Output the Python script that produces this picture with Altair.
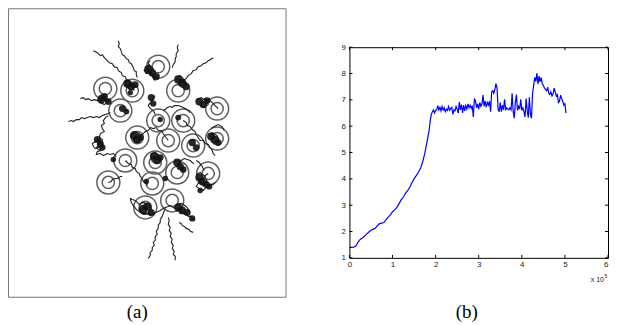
import altair as alt
import pandas as pd

# ---------------- Panel (b) data: line ----------------
line_x = [0.00, 0.05, 0.10, 0.15, 0.20, 0.25, 0.30, 0.35, 0.40, 0.45, 0.50, 0.55, 0.60, 0.65,
          0.70, 0.75, 0.80, 0.85, 0.90, 0.95, 1.00, 1.05, 1.10, 1.15, 1.20, 1.25, 1.30, 1.35,
          1.40, 1.45, 1.50, 1.55, 1.60, 1.65, 1.70, 1.75, 1.80, 1.85, 1.875, 1.90, 1.925, 1.95,
          1.975, 2.00, 2.025, 2.05, 2.075, 2.10, 2.125, 2.15, 2.175, 2.20, 2.225, 2.25, 2.275,
          2.30, 2.325, 2.35, 2.375, 2.40, 2.425, 2.45, 2.475, 2.50, 2.525, 2.55, 2.575, 2.60,
          2.625, 2.65, 2.675, 2.70, 2.725, 2.75, 2.775, 2.80, 2.825, 2.85, 2.875, 2.90, 2.925,
          2.95, 2.975, 3.00, 3.025, 3.05, 3.075, 3.10, 3.125, 3.15, 3.175, 3.20, 3.225, 3.25,
          3.275, 3.30, 3.325, 3.35, 3.375, 3.40, 3.425, 3.45, 3.475, 3.50, 3.525, 3.55, 3.575,
          3.60, 3.625, 3.65, 3.675, 3.70, 3.725, 3.75, 3.775, 3.80, 3.825, 3.85, 3.875, 3.90,
          3.925, 3.95, 3.975, 4.00, 4.025, 4.05, 4.075, 4.10, 4.125, 4.15, 4.175, 4.20, 4.225,
          4.25, 4.275, 4.30, 4.325, 4.35, 4.375, 4.40, 4.425, 4.45, 4.475, 4.50, 4.525, 4.55,
          4.575, 4.60, 4.625, 4.65, 4.675, 4.70, 4.725, 4.75, 4.775, 4.80, 4.825, 4.85, 4.875,
          4.90, 4.925, 4.95, 4.975, 5.00, 5.025]
line_v = [1.40, 1.40, 1.41, 1.45, 1.60, 1.70, 1.75, 1.82, 1.90, 1.98, 2.05, 2.08, 2.12, 2.22,
          2.30, 2.32, 2.34, 2.45, 2.55, 2.63, 2.75, 2.82, 2.92, 3.05, 3.20, 3.30, 3.45, 3.55,
          3.68, 3.85, 4.00, 4.12, 4.25, 4.40, 4.65, 4.98, 5.40, 5.85, 6.20, 6.45, 6.55, 6.62,
          6.50, 6.60, 6.62, 6.78, 6.62, 6.72, 6.58, 6.75, 6.62, 6.70, 6.55, 6.65, 6.60,
          6.75, 6.60, 6.68, 6.72, 6.45, 6.62, 6.58, 6.75, 6.65, 6.50, 6.92, 6.62, 6.82,
          6.50, 6.80, 6.58, 6.78, 6.65, 6.85, 6.70, 6.80, 6.68, 6.78, 6.35, 7.05, 6.95,
          6.70, 6.85, 6.65, 6.90, 6.75, 6.85, 7.18, 6.75, 6.95, 6.72, 6.90, 6.80, 6.95,
          6.55, 7.30, 7.35, 7.25, 7.40, 7.62, 7.45, 6.65, 6.55, 6.90, 6.55, 6.80, 6.62,
          7.02, 6.60, 6.70, 6.65, 6.62, 6.70, 6.62, 7.25, 6.55, 6.30, 6.90, 7.20, 6.60,
          6.75, 6.65, 7.02, 6.60, 6.70, 6.55, 6.35, 7.05, 6.60, 6.32, 7.10, 6.45, 6.30,
          7.25, 7.55, 7.85, 7.70, 8.02, 7.60, 7.90, 7.68, 7.85, 7.60, 7.55, 7.45, 7.40,
          7.35, 7.48, 7.25, 7.20, 7.30, 7.15, 7.22, 7.45, 7.30, 7.15, 7.20, 6.90, 6.95,
          7.18, 7.05, 6.95, 6.80, 6.85, 6.50]
x_ticks = [0, 1, 2, 3, 4, 5, 6]
y_ticks = [1, 2, 3, 4, 5, 6, 7, 8, 9]

# ---------------- Panel (a) data (image-pixel coordinates) ----------------
circle_x = [158, 105, 132, 178, 217, 120, 158, 183, 137, 168, 193, 217, 125, 155, 177, 208, 108, 152, 145, 172]
circle_y = [66, 88, 90, 90, 108, 110, 120, 120, 137, 140, 145, 138, 160, 162, 172, 173, 182, 183, 207, 200]

traj = {
    "t1": [(93, 50), (97, 52), (100, 55), (102, 54), (104, 57), (107, 60), (109, 62), (112, 63), (114, 66), (117, 67), (118, 70), (121, 72), (122, 75), (125, 76), (126, 79), (129, 80), (130, 83), (133, 85)],
    "t2": [(118, 40), (119, 43), (118, 46), (120, 48), (121, 51), (122, 54), (124, 55), (126, 58), (128, 59), (129, 62), (131, 63), (133, 67), (134, 70), (136, 71), (136, 74), (137, 77)],
    "t3": [(178, 44), (177, 47), (178, 50), (176, 53), (176, 56), (175, 58), (175, 61), (173, 64), (172, 67)],
    "t4": [(213, 57), (210, 59), (208, 60), (206, 62), (203, 63), (201, 65), (198, 66), (196, 69), (193, 70), (191, 73), (188, 75), (186, 78), (184, 79), (182, 82)],
    "t5": [(80, 98), (83, 97), (85, 99), (88, 98), (91, 100), (94, 99), (97, 100), (100, 99), (104, 98)],
    "t6": [(68, 121), (71, 120), (73, 121), (76, 119), (79, 119), (81, 117), (84, 118), (87, 117), (90, 116), (93, 117), (96, 116), (99, 117), (102, 115), (105, 114), (108, 113), (110, 112)],
    "t7": [(148, 258), (150, 255), (150, 252), (152, 250), (152, 247), (154, 245), (153, 242), (155, 240), (155, 236), (157, 234), (156, 231), (158, 228), (158, 225), (160, 222), (160, 219), (162, 216), (163, 213), (165, 208)],
    "t8": [(175, 260), (175, 256), (173, 254), (174, 251), (172, 248), (173, 245), (171, 242), (172, 239), (170, 236), (171, 233), (169, 230), (170, 227), (168, 224), (169, 220), (168, 217)],
    "t9": [(193, 232), (190, 231), (189, 229), (186, 228), (184, 226), (182, 225), (181, 223), (179, 222)],
    "t10": [(108, 115), (105, 117), (103, 120), (104, 123), (101, 125), (102, 128), (104, 131), (100, 133), (99, 137), (102, 139), (101, 142), (97, 144), (99, 147), (101, 150), (97, 151), (96, 154), (100, 153), (103, 155), (107, 153), (110, 154), (113, 153), (116, 156)],
    "t11": [(125, 160), (128, 163), (131, 164), (132, 167), (135, 168), (136, 171), (139, 173), (140, 176), (142, 178), (143, 181), (146, 182), (147, 185)],
    "t12": [(137, 137), (139, 134), (142, 134), (145, 131), (148, 130), (150, 127), (153, 128), (156, 127), (158, 130), (161, 130), (163, 133), (165, 136), (168, 140)],
    "t13": [(183, 120), (186, 122), (187, 125), (190, 126), (192, 129), (195, 131), (196, 134), (198, 137), (200, 140), (203, 140), (205, 143), (208, 144), (210, 147), (212, 150), (213, 153), (215, 155)],
    "t14": [(208, 173), (205, 175), (203, 178), (200, 180), (198, 183), (196, 186), (199, 188), (203, 190), (206, 187), (210, 185), (213, 184), (215, 182)],
    "t15": [(108, 182), (111, 181), (112, 179), (115, 178), (118, 178), (120, 176), (122, 176)],
    "t16": [(150, 60), (148, 62), (149, 65), (147, 68), (149, 70), (150, 73), (152, 75), (153, 78), (155, 80)],
    "t17": [(140, 205), (137, 202), (135, 200), (132, 199), (130, 198), (131, 202), (133, 205), (136, 209), (140, 212), (143, 214), (147, 213), (150, 215), (153, 213), (155, 212), (158, 211), (160, 210), (163, 208), (165, 207), (168, 206), (170, 205), (173, 207), (175, 208), (178, 209), (180, 210), (183, 211), (184, 213), (187, 214), (188, 216), (191, 216), (192, 218), (195, 220)],
    "t18": [(155, 95), (153, 97), (152, 100), (150, 102), (148, 105), (150, 108), (153, 110), (154, 112), (155, 114)],
    "t19": [(163, 110), (165, 109), (167, 107), (170, 106), (172, 107), (174, 105), (178, 105), (181, 106), (185, 108), (188, 110), (190, 112)],
    "t20": [(200, 103), (202, 100), (205, 98), (207, 99), (210, 100), (212, 102), (214, 104), (216, 106), (218, 108)],
    "t21": [(98, 140), (95, 141), (92, 143), (93, 146), (95, 148), (98, 147), (100, 145)],
    "t22": [(178, 163), (181, 160), (184, 158), (187, 159), (190, 160), (192, 162), (194, 163)],
    "t23": [(196, 160), (199, 162), (202, 166), (204, 170)],
    "t24": [(211, 128), (214, 126), (218, 124), (222, 126), (224, 130)],
    "s1": [(145, 66), (149, 64), (153, 68), (150, 72), (146, 73), (144, 70), (148, 69), (152, 74), (156, 77), (159, 74)],
    "s2": [(124, 82), (128, 80), (132, 82), (135, 86), (131, 89), (127, 87), (125, 84), (130, 84), (134, 90)],
    "s3": [(132, 133), (136, 131), (140, 134), (141, 139), (137, 142), (133, 140), (134, 136), (138, 137)],
    "s4": [(150, 154), (155, 152), (159, 155), (160, 160), (156, 163), (152, 161), (151, 157), (156, 158)],
    "s5": [(139, 204), (143, 202), (148, 204), (151, 208), (149, 213), (144, 214), (140, 211), (143, 207), (147, 209)],
    "s6": [(176, 204), (181, 203), (186, 206), (189, 210), (185, 214), (180, 212), (178, 208), (183, 209)],
    "s7": [(196, 174), (200, 172), (205, 176), (207, 181), (203, 185), (198, 182), (200, 178), (204, 180)],
    "s8": [(175, 76), (180, 75), (184, 79), (186, 84), (182, 87), (178, 84), (180, 80), (184, 82)],
    "s9": [(98, 96), (102, 94), (106, 97), (108, 101), (104, 104), (100, 102), (102, 98), (106, 100)],
    "s10": [(197, 99), (201, 97), (206, 100), (208, 104), (204, 107), (200, 105), (202, 101)],
    "s11": [(208, 134), (212, 132), (217, 135), (219, 140), (215, 143), (211, 141), (213, 137)],
    "s12": [(94, 142), (98, 139), (102, 142), (103, 147), (99, 150), (96, 147), (99, 144)],
}

blob_x = [148, 152, 156, 127, 131, 135, 101, 104, 108, 178, 182, 186, 199, 203, 207, 151, 153, 134, 137, 140,
          154, 157, 160, 177, 180, 183, 199, 202, 206, 143, 147, 151, 178, 182, 187, 192, 122, 126, 192, 196,
          211, 215, 218, 97, 100, 102, 178, 160, 113, 146, 209, 130, 165, 200]
blob_y = [69, 72, 76, 83, 86, 84, 99, 96, 101, 79, 82, 86, 101, 104, 100, 97, 103, 135, 139, 137,
          156, 160, 157, 162, 166, 169, 177, 181, 184, 209, 206, 212, 207, 210, 212, 218, 108, 111, 142, 147,
          136, 139, 142, 139, 143, 147, 117, 119, 159, 181, 186, 92, 178, 190]
blob_s = [75, 55, 50, 65, 55, 45, 70, 50, 45, 65, 60, 50, 60, 50, 45, 50, 40, 80, 60, 45,
          80, 60, 45, 65, 55, 45, 60, 55, 45, 90, 65, 50, 70, 60, 50, 40, 45, 35, 55, 45,
          65, 55, 45, 50, 45, 40, 35, 30, 30, 30, 40, 30, 30, 30]

# ---------------- build tables ----------------
circ_df = pd.DataFrame({"x": circle_x, "y": circle_y})
rows = []
for k, pts in traj.items():
    for i, (px, py) in enumerate(pts):
        rows.append({"id": k, "i": i, "x": px, "y": py})
traj_df = pd.DataFrame(rows)
blob_df = pd.DataFrame({"x": blob_x, "y": blob_y, "s": blob_s})

AW, AH = 278, 289
xa = alt.X("x:Q", scale=alt.Scale(domain=[7.5, 285.5], nice=False, zero=False),
           axis=alt.Axis(title="(a)", domain=False, ticks=False, labels=False, grid=False,
                         titleFont="Liberation Serif", titleFontSize=19, titleFontWeight="normal",
                         titleColor="black", titleX=129, titleY=21, titleBaseline="alphabetic"))
ya = alt.Y("y:Q", scale=alt.Scale(domain=[7.5, 296.5], reverse=True, nice=False, zero=False),
           axis=None)

rings_outer = alt.Chart(circ_df).mark_point(shape="circle", filled=False, size=530,
                                             color="#5f5f5f", strokeWidth=1.5, opacity=1).encode(x=xa, y=ya)
rings_inner = alt.Chart(circ_df).mark_point(shape="circle", filled=False, size=150,
                                             color="#5f5f5f", strokeWidth=1.5, opacity=1).encode(x=xa, y=ya)
paths = alt.Chart(traj_df).mark_line(color="#222222", strokeWidth=1.1).encode(
    x=xa, y=ya, detail="id:N", order="i:Q")
blobs = alt.Chart(blob_df).mark_point(shape="circle", filled=True, color="#111111", opacity=0.9).encode(
    x=xa, y=ya, size=alt.Size("s:Q", scale=None, legend=None))

panel_a = alt.layer(rings_outer, rings_inner, paths, blobs).properties(
    width=AW, height=AH, view=alt.ViewBackground(stroke="#777777", strokeWidth=1))

# ---------------- panel (b) ----------------
BW, BH = 259, 211
line_df = pd.DataFrame({"x": line_x, "v": line_v})
xt_df = pd.DataFrame({"x": x_ticks})
yt_df = pd.DataFrame({"v": y_ticks})

lab = dict(labelFont="Liberation Sans", labelFontSize=8, labelColor="#222222")
xb = alt.X("x:Q", scale=alt.Scale(domain=[0, 6], nice=False, zero=False),
           axis=alt.Axis(values=x_ticks, format="d", ticks=False, domain=False, grid=False,
                         labelPadding=3,
                         labelAlign=alt.condition("datum.value == 6", alt.value("right"), alt.value("center")),
                         title="(b)", titleFont="Liberation Serif",
                         titleFontSize=19, titleFontWeight="normal", titleColor="black",
                         titleX=117, titleY=60, titleBaseline="alphabetic", **lab))
yb = alt.Y("v:Q", scale=alt.Scale(domain=[1, 9], nice=False, zero=False),
           axis=alt.Axis(values=y_ticks, format="d", ticks=False, domain=False, grid=False,
                         labelPadding=4, title=None, **lab))

line = alt.Chart(line_df).mark_line(color="#0000ff", strokeWidth=1.2).encode(x=xb, y=yb)
tick_b = alt.Chart(xt_df).mark_rule(color="black", strokeWidth=1).encode(
    x=xb, y=alt.value(BH), y2=alt.value(BH - 3))
tick_t = alt.Chart(xt_df).mark_rule(color="black", strokeWidth=1).encode(
    x=xb, y=alt.value(0), y2=alt.value(3))
tick_l = alt.Chart(yt_df).mark_rule(color="black", strokeWidth=1).encode(
    y=yb, x=alt.value(0), x2=alt.value(3))
tick_r = alt.Chart(yt_df).mark_rule(color="black", strokeWidth=1).encode(
    y=yb, x=alt.value(BW), x2=alt.value(BW - 3))
exp_txt = alt.Chart(xt_df.head(1)).mark_text(text="x 10", font="Liberation Sans", fontSize=7,
                                             align="right", baseline="alphabetic", color="#222222").encode(
    x=alt.value(BW - 4), y=alt.value(BH + 24))
exp_sup = alt.Chart(xt_df.head(1)).mark_text(text="5", font="Liberation Sans", fontSize=5,
                                             align="left", baseline="alphabetic", color="#222222").encode(
    x=alt.value(BW - 3.5), y=alt.value(BH + 20))

panel_b = alt.layer(line, tick_b, tick_t, tick_l, tick_r, exp_txt, exp_sup).properties(
    width=BW, height=BH, view=alt.ViewBackground(stroke="black", strokeWidth=1))

spacer = alt.Chart(xt_df.head(1)).mark_point(opacity=0, size=1).encode(
    x=alt.value(1), y=alt.value(1)).properties(
    width=BW, height=1, view=alt.ViewBackground(stroke="transparent"))

right_col = alt.vconcat(spacer, panel_b, spacing=38, bounds="flush")
chart = alt.hconcat(panel_a, right_col, spacing=64, bounds="flush").properties(
    padding={"left": -1, "top": -1, "right": 0, "bottom": 0}, background="white")

chart.save("out.html", embed_options={"renderer": "svg", "actions": False})
